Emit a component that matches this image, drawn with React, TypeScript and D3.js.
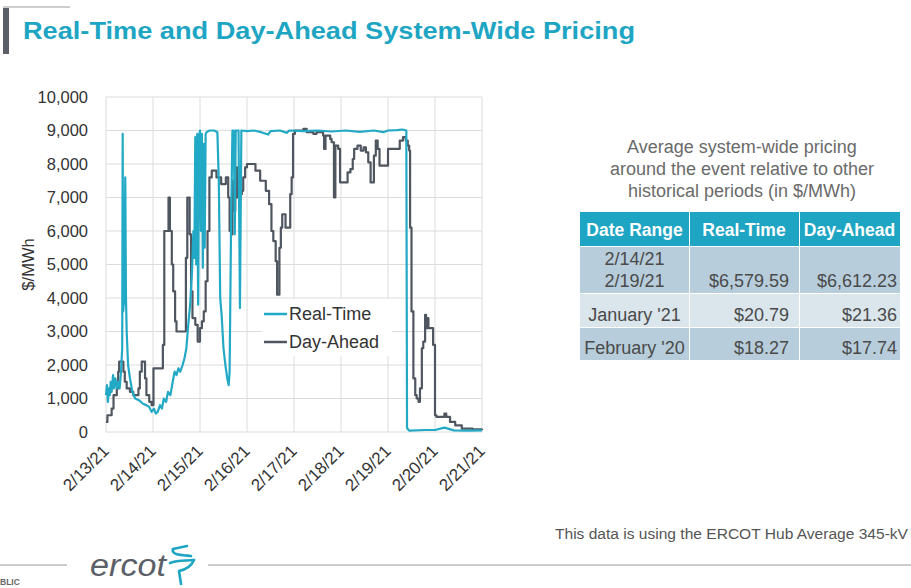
import React from "react";
import * as d3 from "d3";

// ---------- data ----------
const dateLabels = ["2/13/21","2/14/21","2/15/21","2/16/21","2/17/21","2/18/21","2/19/21","2/20/21","2/21/21"];
const yTicks = [0,1000,2000,3000,4000,5000,6000,7000,8000,9000,10000];

// Real-Time price: [days since 2/13/21, $/MWh]
const realTime: [number, number][] = [
  [0.00,1100],[0.02,1400],[0.04,900],[0.06,1300],[0.08,1100],[0.10,1500],[0.12,1200],[0.15,1700],[0.17,1300],
  [0.20,1600],[0.23,1300],[0.26,1500],[0.29,1300],[0.32,1800],[0.345,2500],[0.355,8900],[0.365,3600],[0.39,4000],
  [0.41,7600],[0.425,4000],[0.44,3000],[0.47,2000],[0.51,1600],[0.56,1200],[0.62,1000],[0.70,950],[0.78,850],
  [0.86,800],[0.92,750],[0.97,600],[1.02,700],[1.06,550],[1.10,600],[1.15,800],[1.19,700],[1.23,1000],[1.28,900],
  [1.32,1200],[1.37,1100],[1.42,1500],[1.46,1800],[1.50,1700],[1.54,1900],[1.58,1800],[1.63,2000],[1.67,2200],
  [1.71,2500],[1.75,3200],[1.79,3800],[1.83,4800],[1.86,6000],[1.88,5200],[1.90,8800],[1.92,5000],[1.94,8900],
  [1.96,3800],[1.98,8800],[2.00,9000],[2.02,6000],[2.04,8900],[2.06,4900],[2.08,8600],[2.10,5500],[2.12,8900],
  [2.14,8950],[2.20,9000],[2.30,9000],[2.37,8950],[2.40,7500],[2.43,4000],[2.46,3500],[2.50,2500],[2.54,2000],
  [2.58,1600],[2.61,1400],[2.63,1800],[2.66,6000],[2.69,9000],[2.72,9000],[2.74,5900],[2.76,9000],[2.82,9000],
  [2.85,3700],[2.88,9000],[3.00,8980],[3.15,9000],[3.30,8950],[3.45,8880],[3.50,8980],[3.70,9000],[3.85,8930],
  [3.90,9000],[4.20,8980],[4.50,9000],[4.80,8970],[5.10,9000],[5.40,8960],[5.70,9000],[5.90,8950],[6.00,9000],
  [6.20,9010],[6.30,9030],[6.39,9000],[6.405,120],[6.45,40],[6.80,60],[7.00,60],[7.20,130],[7.40,50],[7.70,40],[8.00,50]
];

// Day-Ahead price (hourly steps): [days since 2/13/21, $/MWh]
const dayAhead: [number, number][] = [
  [0.00,300],[0.03,500],[0.12,700],[0.16,1100],[0.23,1300],[0.26,1800],[0.28,2100],[0.37,1800],[0.40,1500],
  [0.44,1300],[0.51,1200],[0.58,1100],[0.69,1300],[0.72,1800],[0.76,2100],[0.83,1600],[0.86,1100],[0.92,900],
  [0.97,800],[1.01,1900],[1.21,2600],[1.24,6000],[1.33,7000],[1.36,6000],[1.40,5000],[1.43,4200],[1.47,3300],
  [1.50,3000],[1.70,5200],[1.73,7000],[1.78,5900],[1.81,4200],[1.84,3400],[1.90,3200],[1.95,2700],[2.00,3100],
  [2.04,3300],[2.08,3600],[2.12,4500],[2.16,6000],[2.20,7600],[2.25,7800],[2.35,7600],[2.45,7400],[2.55,7600],
  [2.60,7000],[2.63,6000],[2.66,5900],[2.69,7500],[2.72,6600],[2.75,7900],[2.79,7000],[2.82,7800],[2.86,7100],
  [2.89,7200],[2.92,7600],[2.96,7900],[3.00,8000],[3.18,7800],[3.28,7500],[3.40,7200],[3.47,6800],[3.52,6000],
  [3.56,5700],[3.61,5100],[3.64,4100],[3.69,5500],[3.72,6100],[3.75,6500],[3.82,6100],[3.92,7100],[3.95,7600],
  [3.98,8900],[4.02,9000],[4.20,9050],[4.27,8950],[4.41,8900],[4.48,8950],[4.62,8850],[4.64,8450],[4.67,8850],
  [4.77,8750],[4.80,8650],[4.85,7000],[4.88,8550],[4.94,8450],[4.98,7450],[5.14,7750],[5.20,7850],[5.25,8150],
  [5.28,8450],[5.35,8550],[5.42,8400],[5.48,8500],[5.53,8350],[5.58,8050],[5.63,7450],[5.70,8250],[5.74,8700],
  [5.78,8450],[5.82,7950],[6.00,8450],[6.25,8700],[6.32,8800],[6.38,8700],[6.42,8550],[6.45,8400],[6.47,6100],
  [6.50,3600],[6.54,1600],[6.58,1100],[6.61,1000],[6.65,900],[6.68,1300],[6.72,2500],[6.75,2700],[6.79,3500],
  [6.81,3100],[6.83,3400],[6.86,3100],[6.96,2600],[7.00,500],[7.03,450],[7.20,550],[7.24,450],[7.32,300],
  [7.43,200],[7.57,100],[7.80,80],[8.00,100]
];

const tableHeaders = ["Date Range", "Real-Time", "Day-Ahead"];
const tableRanges = [["2/14/21", "2/19/21"], ["January '21"], ["February '20"]];
const tableRealTime = ["$6,579.59", "$20.79", "$18.27"];
const tableDayAhead = ["$6,612.23", "$21.36", "$17.74"];
const captionLines = ["Average system-wide pricing", "around the event relative to other", "historical periods (in $/MWh)"];

// ---------- styles ----------
const FONT = "'Liberation Sans', Arial, sans-serif";
const TEAL = "#1ea5c3";
const RT_COLOR = "#22a9c6";
const DA_COLOR = "#4f5660";
const GRID = "#dcdcdc";

export default function App() {
  const x = d3.scaleLinear().domain([0, 8]).range([106, 482]);
  const y = d3.scaleLinear().domain([0, 10000]).range([432, 97]);
  const rtLine = d3.line<[number, number]>().x(d => x(d[0])).y(d => y(d[1]));
  const daLine = d3.line<[number, number]>().x(d => x(d[0])).y(d => y(d[1])).curve(d3.curveStepAfter);
  const fmt = d3.format(",");

  // table geometry
  const colX = [580, 689, 799, 900];
  const rowY = [212, 246, 293, 327, 360];
  const rowFill = ["#b7cddb", "#dae5ec", "#b7cddb"];

  return (
    <svg width={911} height={588} style={{ position: "absolute", left: 0, top: 0, background: "#fff" }} fontFamily={FONT}>
      {/* title decoration */}
      <line x1={3} x2={70} y1={7} y2={7} stroke="#bdbdbd" strokeWidth={1.5} />
      <rect x={3} y={8} width={6} height={46} fill="#5b6068" />
      <text x={23} y={39} fontSize={24} fontWeight="bold" fill={TEAL} textLength={612} lengthAdjust="spacingAndGlyphs">
        Real-Time and Day-Ahead System-Wide Pricing
      </text>

      {/* grid */}
      {yTicks.map(t => (
        <line key={"h" + t} x1={x(0)} x2={x(8)} y1={y(t)} y2={y(t)} stroke={GRID} strokeWidth={1} />
      ))}
      {dateLabels.map((_, i) => (
        <line key={"v" + i} x1={x(i)} x2={x(i)} y1={y(10000)} y2={y(0)} stroke={GRID} strokeWidth={1} />
      ))}

      {/* y axis labels */}
      {yTicks.map(t => (
        <text key={"yl" + t} x={88} y={y(t)} dy="0.36em" textAnchor="end" fontSize={16.5} fill="#333">
          {fmt(t)}
        </text>
      ))}
      <text transform={`translate(34,${y(5000)}) rotate(-90)`} textAnchor="middle" fontSize={16.5} fill="#333">
        $/MWh
      </text>

      {/* x axis labels */}
      {dateLabels.map((lab, i) => (
        <text key={"xl" + i} transform={`translate(${x(i) + 4},${y(0) + 20}) rotate(-45)`} textAnchor="end" fontSize={17} fill="#333">
          {lab}
        </text>
      ))}

      {/* series */}
      <path d={daLine(dayAhead) || ""} fill="none" stroke={DA_COLOR} strokeWidth={2.2} strokeLinejoin="round" />
      <path d={rtLine(realTime) || ""} fill="none" stroke={RT_COLOR} strokeWidth={2.2} strokeLinejoin="round" />

      {/* legend */}
      <rect x={262} y={299} width={130} height={57} fill="#fff" />
      <line x1={264} x2={287} y1={314} y2={314} stroke={RT_COLOR} strokeWidth={2.5} />
      <text x={289} y={314} dy="0.36em" fontSize={18} fill="#333">Real-Time</text>
      <line x1={264} x2={287} y1={342} y2={342} stroke={DA_COLOR} strokeWidth={2.5} />
      <text x={289} y={342} dy="0.36em" fontSize={18} fill="#333">Day-Ahead</text>

      {/* table caption */}
      {captionLines.map((s, i) => (
        <text key={"cap" + i} x={742} y={153 + i * 22} textAnchor="middle" fontSize={18} fill="#6a6a6a">{s}</text>
      ))}

      {/* table header */}
      {tableHeaders.map((h, j) => (
        <g key={"th" + j}>
          <rect x={colX[j] + (j ? 1 : 0)} y={rowY[0]} width={colX[j + 1] - colX[j] - (j ? 1 : 0)} height={rowY[1] - rowY[0]} fill={TEAL} />
          <text x={(colX[j] + colX[j + 1]) / 2} y={rowY[0] + 24} textAnchor="middle" fontSize={17.5} fontWeight="bold" fill="#fff">{h}</text>
        </g>
      ))}
      {/* table body */}
      {tableRanges.map((r, i) => (
        <g key={"tr" + i}>
          {[0, 1, 2].map(j => (
            <rect key={j} x={colX[j] + (j ? 1 : 0)} y={rowY[i + 1] + 1} width={colX[j + 1] - colX[j] - (j ? 1 : 0)} height={rowY[i + 2] - rowY[i + 1] - 1} fill={rowFill[i]} />
          ))}
          {r.map((s, k) => (
            <text key={k} x={(colX[0] + colX[1]) / 2} y={rowY[i + 2] - 6 - (r.length - 1 - k) * 22} textAnchor="middle" fontSize={18} fill="#4a4a4a">{s}</text>
          ))}
          <text x={colX[2] - 10} y={rowY[i + 2] - 6} textAnchor="end" fontSize={18} fill="#4a4a4a">{tableRealTime[i]}</text>
          <text x={colX[3] - 3} y={rowY[i + 2] - 6} textAnchor="end" fontSize={18} fill="#4a4a4a">{tableDayAhead[i]}</text>
        </g>
      ))}

      {/* footer note */}
      <text x={555} y={539} fontSize={15.5} fill="#555" textLength={353} lengthAdjust="spacingAndGlyphs">This data is using the ERCOT Hub Average 345-kV</text>

      {/* footer */}
      <line x1={0} x2={67} y1={565} y2={565} stroke="#9a9a9a" strokeWidth={1.2} />
      <line x1={208} x2={911} y1={565} y2={565} stroke="#9a9a9a" strokeWidth={1.2} />
      <text x={90} y={576} fontSize={31} fontStyle="italic" fill="#5b6068" textLength={76} lengthAdjust="spacingAndGlyphs">ercot</text>
      <g fill="none" stroke={TEAL} strokeWidth={2.6} strokeLinecap="round" strokeLinejoin="round">
        <path d="M173,549 L187,546" />
        <path d="M173,549 C171,555 181,555 191,556" />
        <path d="M170,563 C178,560 186,561 194,560" />
        <path d="M194,560 C191,567 184,570 179,571 L181,584" />
      </g>
      <text x={0} y={585} fontSize={8.5} fontWeight="bold" fill="#666">BLIC</text>
    </svg>
  );
}
